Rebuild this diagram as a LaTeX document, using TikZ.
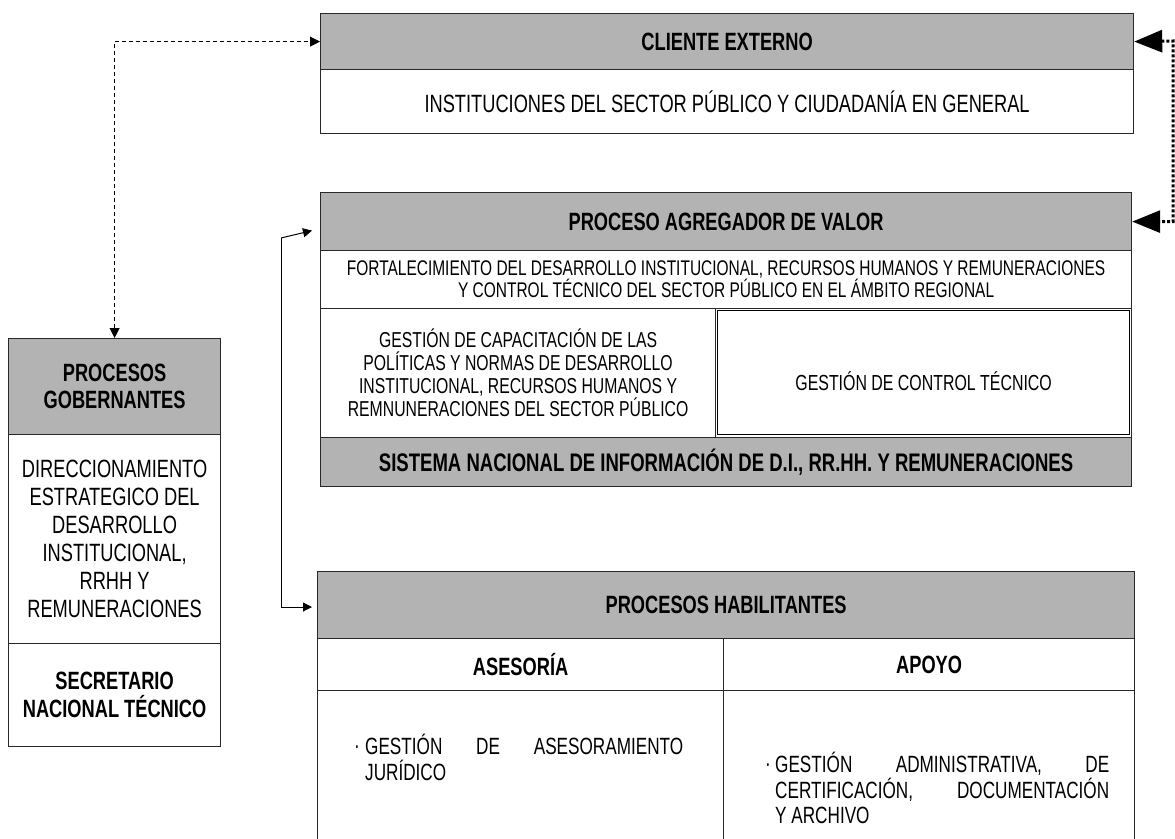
\documentclass[tikz,border=0pt]{standalone}
\usepackage{fontspec}
\setmainfont{Liberation Sans}[FakeStretch=0.73]
\usetikzlibrary{arrows.meta}
\definecolor{cabecera}{RGB}{179,179,179}
\definecolor{borde}{RGB}{40,40,40}

\begin{document}
\begin{tikzpicture}[x=1pt,y=-1pt]
\tikzset{celda/.style={draw=borde, line width=1.2pt, anchor=north west, inner sep=0pt, align=center, font=\fontsize{25}{28}\selectfont},
cabeza/.style={celda, fill=cabecera, font=\bfseries\fontsize{25}{27}\selectfont},
vineta/.style={anchor=north west, inner sep=0pt, align=justify, font=\fontsize{23.5}{25.5}\selectfont},
guion/.style={dash pattern=on 4pt off 3pt, line width=0.9pt, {Triangle[length=10pt,width=10pt]}-{Triangle[length=10pt,width=10pt]}},
punteo/.style={dash pattern=on 3pt off 2pt, line width=3pt, {Triangle[length=28pt,width=22pt]}-{Triangle[length=28pt,width=22pt]}},
flecha/.style={line width=1pt, -{Triangle[length=9pt,width=9pt]}}}
\clip (0,0) rectangle (1175,838);
\node[cabeza, minimum width=813, minimum height=56] (CE) at (320,13) {CLIENTE EXTERNO};
\node[celda, minimum width=813, minimum height=64] (CI) at (320,69) {INSTITUCIONES DEL SECTOR PÚBLICO Y CIUDADANÍA EN GENERAL};
\node[cabeza, minimum width=811, minimum height=58] (AG) at (320,192) {PROCESO AGREGADOR DE VALOR};
\node[celda, minimum width=811, minimum height=58, font=\fontsize{21.2}{21}\selectfont] (FD) at (320,250) {FORTALECIMIENTO DEL DESARROLLO INSTITUCIONAL, RECURSOS HUMANOS Y REMUNERACIONES\\Y CONTROL TÉCNICO DEL SECTOR PÚBLICO EN EL ÁMBITO REGIONAL};
\node[celda, minimum width=395, minimum height=129, font=\fontsize{21.6}{23}\selectfont] (GC) at (320,308) {GESTIÓN DE CAPACITACIÓN DE LAS\\POLÍTICAS Y NORMAS DE DESARROLLO\\INSTITUCIONAL, RECURSOS HUMANOS Y\\REMNUNERACIONES DEL SECTOR PÚBLICO};
\node[celda, minimum width=416, minimum height=129] (CT) at (715,308) {};
\draw[line width=0.8pt] ([xshift=2pt,yshift=-2pt]CT.north west) rectangle ([xshift=-3pt,yshift=4pt]CT.south east);
\node[font=\fontsize{21.8}{23}\selectfont] (CTt) at ([yshift=-8pt]CT.center) {GESTIÓN DE CONTROL TÉCNICO};
\node[cabeza, minimum width=811, minimum height=49, font=\bfseries\fontsize{25.4}{27}\selectfont] (SN) at (320,437) {SISTEMA NACIONAL DE INFORMACIÓN DE D.I., RR.HH. Y REMUNERACIONES};
\node[cabeza, minimum width=212, minimum height=96] (PG) at (8,338) {PROCESOS\\GOBERNANTES};
\node[celda, minimum width=212, minimum height=209] (PD) at (8,434) {DIRECCIONAMIENTO\\ESTRATEGICO DEL\\DESARROLLO\\INSTITUCIONAL,\\RRHH Y\\REMUNERACIONES};
\node[celda, minimum width=212, minimum height=103, font=\bfseries\fontsize{25}{28}\selectfont] (PS) at (8,643) {SECRETARIO\\NACIONAL TÉCNICO};
\node[cabeza, minimum width=817, minimum height=67] (HB) at (317,571) {PROCESOS HABILITANTES};
\node[celda, minimum width=406, minimum height=52, font=\bfseries\fontsize{25}{27}\selectfont] (AS) at (317,638) {ASESORÍA};
\node[celda, minimum width=411, minimum height=52, font=\bfseries\fontsize{25}{27}\selectfont] (AP) at (723,638) {APOYO};
\node[celda, minimum width=406, minimum height=170] (ASb) at (317,690) {};
\node[celda, minimum width=411, minimum height=170] (APb) at (723,690) {};
\node[anchor=base, inner sep=0pt, font=\fontsize{23.5}{25.5}\selectfont] (b1) at (357,753) {·};
\node[vineta, text width=318] (t1) at (365,734) {GESTIÓN DE ASESORAMIENTO\linebreak JURÍDICO};
\node[anchor=base, inner sep=0pt, font=\fontsize{23.5}{25.5}\selectfont] (b2) at (768,771) {·};
\node[vineta, text width=334] (t2) at (775,752) {GESTIÓN ADMINISTRATIVA, DE\linebreak CERTIFICACIÓN, DOCUMENTACIÓN\linebreak Y ARCHIVO};
\coordinate (D1) at (1173,41);
\coordinate (L1) at (281,238);
\coordinate (L2) at (281,607);
\draw[guion] (PG.north) |- (CE.west);
\draw[punteo] (CE.east) -- (D1) |- (AG.east);
\draw[line width=1pt] (L1) -- (L2);
\draw[flecha] (L1) -- ([xshift=-8pt,yshift=-9pt]AG.west);
\draw[flecha] (L2) -- ([xshift=-5pt]HB.west |- L2);
\end{tikzpicture}
\end{document}
